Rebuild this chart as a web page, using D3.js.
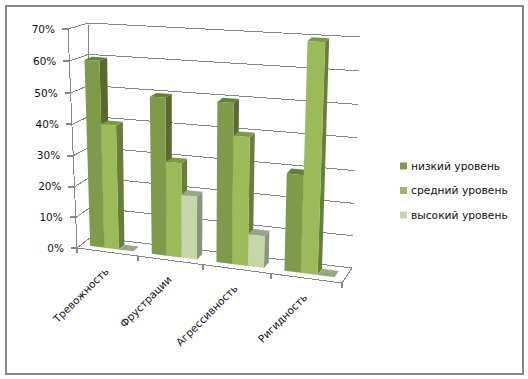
<!DOCTYPE html>
<html>
<head>
<meta charset="utf-8">
<script src="https://cdnjs.cloudflare.com/ajax/libs/d3/7.8.5/d3.min.js"></script>
<style>
html, body { margin: 0; padding: 0; background: white; }
text { font-family: "DejaVu Sans", sans-serif; fill: #111; }
</style>
</head>
<body>
<div id="chart"></div>
<script>
const categories = ['Тревожность', 'Фрустрации', 'Агрессивность', 'Ригидность'];
const seriesNames = ['низкий уровень', 'средний уровень', 'высокий уровень'];
const low = [60, 50, 50, 30];
const mid = [40, 30, 40, 70];
const high = [0, 20, 10, 0];
const yTicks = [0, 10, 20, 30, 40, 50, 60, 70];

const seriesValues = [low, mid, high];
const width = 528, height = 379;

// front, side, top colours per series
const colors = [
	{ front: '#7f9a48', side: '#556b2f', top: '#65803a' },
	{ front: '#9bbb59', side: '#677f3c', top: '#7d9749' },
	{ front: '#c5d6a9', side: '#869676', top: '#96a686' }
];

let svg = d3.select('#chart')
	.append('svg')
	.attr('width', width)
	.attr('height', height)
	.style('display', 'block')
	.style('background', 'white');

// frame
svg.append('rect')
	.attr('x', 6).attr('y', 6)
	.attr('width', 517).attr('height', 368)
	.attr('fill', 'white')
	.attr('stroke', '#868686')
	.attr('stroke-width', 2);

// box corners in screen pixels, u = along categories, v = value, w = depth
const corners = {
	fb0: [77, 248], ft0: [68, 29], bb0: [91, 237], bt0: [88, 23],
	fb1: [342, 283], ft1: [352, 47], bb1: [352, 268], bt1: [360, 37]
};

let uScale = d3.scaleBand().domain(categories).range([0, 1]);
let vScale = d3.scaleLinear().domain([0, 70]).range([0, 1]);

function persp(t, k) { return t / (t + k * (1 - t)); }
function mix(a, b, t) { return [a[0] + (b[0] - a[0]) * t, a[1] + (b[1] - a[1]) * t]; }

function project(u, value, w) {
	let tu = persp(u, 1.105);
	let tv = persp(vScale(value), 1.03);
	let front = mix(mix(corners.fb0, corners.ft0, tv), mix(corners.fb1, corners.ft1, tv), tu);
	let back = mix(mix(corners.bb0, corners.bt0, tv), mix(corners.bb1, corners.bt1, tv), tu);
	return mix(front, back, w);
}

let line = d3.line();
let grid = svg.append('g')
	.attr('fill', 'none')
	.attr('stroke', '#868686')
	.attr('shape-rendering', 'crispEdges');

// walls and floor
yTicks.forEach(function(t) {
	grid.append('path').attr('d', line([project(0, t, 0), project(0, t, 1), project(1, t, 1)]));
	// tick
	let p = project(0, t, 0);
	grid.append('path').attr('d', line([[p[0] - 6, p[1]], p])).attr('stroke-width', 2);
});
grid.append('path').attr('d', line([project(0, 0, 0), project(0, 70, 0)]));
grid.append('path').attr('d', line([project(0, 0, 1), project(0, 70, 1)]));
grid.append('path').attr('d', line([project(0, 0, 0), project(1, 0, 0), project(1, 0, 1)]));
d3.range(0, 5).forEach(function(i) {
	let p = project(i / 4, 0, 0);
	grid.append('path').attr('d', line([p, [p[0], p[1] + 5]])).attr('stroke-width', 2);
});

// y labels
svg.append('g').selectAll('text')
	.data(yTicks)
	.enter()
	.append('text')
	.attr('x', d => project(0, d, 0)[0] - 13)
	.attr('y', d => project(0, d, 0)[1])
	.attr('dy', '0.35em')
	.attr('text-anchor', 'end')
	.style('font-size', '10.5px')
	.text(d => d + '%');

// bars
const barW = 0.235, margin = 0.15, w0 = 0.3, w1 = 0.72;
let bars = svg.append('g');

function poly(points, fill) {
	bars.append('polygon')
		.attr('points', points.map(p => p.join(',')).join(' '))
		.attr('fill', fill);
}

categories.forEach(function(cat, c) {
	let start = uScale(cat);
	let band = uScale.bandwidth();
	seriesValues.forEach(function(values, s) {
		let val = values[c];
		let a = start + band * (margin + barW * s);
		let b = a + band * barW;
		let col = colors[s];
		poly([project(b, 0, w0), project(b, 0, w1), project(b, val, w1), project(b, val, w0)], col.side);
		poly([project(a, val, w0), project(b, val, w0), project(b, val, w1), project(a, val, w1)], col.top);
		poly([project(a, 0, w0), project(b, 0, w0), project(b, val, w0), project(a, val, w0)], col.front);
	});
});

// category labels
svg.append('g').selectAll('text')
	.data(categories)
	.enter()
	.append('text')
	.attr('transform', (d, i) => {
		let p = project(uScale(d) + uScale.bandwidth() / 2, 0, 0);
		return 'translate(' + (p[0] + 2) + ',' + (p[1] + 20) + ') rotate(-45)';
	})
	.attr('text-anchor', 'end')
	.style('font-size', '10.5px')
	.text(d => d);

// legend
let legend = svg.append('g');
seriesNames.forEach(function(name, i) {
	let y = 166 + i * 24.5;
	legend.append('rect')
		.attr('x', 400).attr('y', y - 3.5)
		.attr('width', 7).attr('height', 7)
		.attr('fill', colors[i].front);
	legend.append('text')
		.attr('x', 411).attr('y', y)
		.attr('dy', '0.35em')
		.style('font-size', '10.7px')
		.text(name);
});
</script>
</body>
</html>
